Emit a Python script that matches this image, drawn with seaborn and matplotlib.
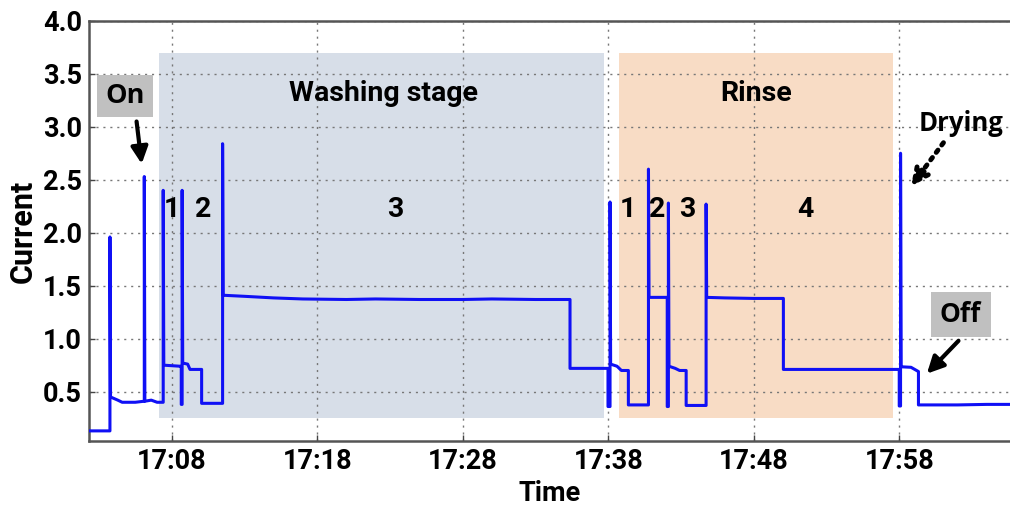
import matplotlib
matplotlib.use("Agg")
import matplotlib.pyplot as plt
import seaborn as sns
import pandas as pd
from matplotlib.patches import Rectangle

# ---- data (time in minutes after 17:00, current) ----
time_min = [2.0, 3.76, 3.76, 3.80, 4.3, 4.6, 5.5, 6.12, 6.12, 6.16, 6.6, 7.0, 7.42, 7.42, 7.46,
            8.6, 8.66, 8.66, 8.72, 8.72, 8.76, 9.1, 9.26, 10.06, 10.06, 11.5, 11.5, 11.54,
            13.0, 15.0, 17.0, 20.0, 22.0, 25.0, 28.0, 30.0, 33.0, 35.37, 35.37,
            37.98, 37.98, 38.12, 38.12, 38.16, 38.6, 38.9, 39.38, 39.38, 40.76, 40.76, 40.80,
            42.05, 42.05, 42.13, 42.13, 42.17, 42.6, 42.9, 43.35, 43.35, 44.72, 44.72, 44.76,
            46.0, 48.0, 50.03, 50.03, 54.0, 57.99, 57.99, 58.08, 58.08, 58.12, 58.8, 59.31,
            59.31, 62.0, 64.0, 66.0]
current = [0.13, 0.13, 1.96, 0.45, 0.42, 0.40, 0.40, 0.41, 2.53, 0.41, 0.42, 0.40, 0.40, 2.40, 0.75,
           0.74, 0.74, 0.38, 0.38, 2.40, 0.77, 0.76, 0.71, 0.71, 0.39, 0.39, 2.84, 1.41,
           1.40, 1.385, 1.375, 1.37, 1.375, 1.37, 1.37, 1.375, 1.37, 1.37, 0.72,
           0.72, 0.36, 0.36, 2.29, 0.76, 0.74, 0.70, 0.70, 0.375, 0.375, 2.60, 1.39,
           1.39, 0.36, 0.36, 2.28, 0.74, 0.72, 0.70, 0.70, 0.37, 0.37, 2.27, 1.39,
           1.385, 1.38, 1.38, 0.71, 0.71, 0.71, 0.365, 0.365, 2.75, 0.735, 0.73, 0.69,
           0.375, 0.375, 0.38, 0.38]

tick_minutes = [8, 18, 28, 38, 48, 58]
tick_labels = ["17:08", "17:18", "17:28", "17:38", "17:48", "17:58"]
ytick_values = [0.5, 1.0, 1.5, 2.0, 2.5, 3.0, 3.5, 4.0]

stage_names = ["Washing stage", "Rinse"]
stage_start = [7.15, 38.76]
stage_end = [37.71, 57.53]
stage_colors = ["#d7dee8", "#f8dcc5"]

wash_steps = ["1", "2", "3"]
wash_step_x = [8.0, 10.16, 23.35]
rinse_steps = ["1", "2", "3", "4"]
rinse_step_x = [39.36, 41.36, 43.42, 51.53]

df = pd.DataFrame({"t": time_min, "I": current})

sns.set_style("ticks")
plt.rcParams["font.family"] = ["Roboto", "DejaVu Sans"]
plt.rcParams["text.color"] = "black"
plt.rcParams["axes.labelcolor"] = "black"

fig = plt.figure(figsize=(10.1, 5.08), dpi=100)
ax = fig.add_axes([0.0881, 0.132, 0.9119, 0.827])

# stage backgrounds
for s0, s1, c in zip(stage_start, stage_end, stage_colors):
    ax.add_patch(Rectangle((s0, 0.25), s1 - s0, 3.45, facecolor=c, edgecolor="none", zorder=0))

sns.lineplot(data=df, x="t", y="I", sort=False, estimator=None, color="#1010f5", lw=2.2, ax=ax, zorder=3)

ax.set_xlim(2.32, 65.6)
ax.set_ylim(0.035, 4.0)
ax.set_xticks(tick_minutes)
ax.set_xticklabels(tick_labels)
ax.set_yticks(ytick_values)
ax.set_yticklabels([f"{v:.1f}" for v in ytick_values])
ax.grid(True, linestyle=(0, (1.5, 3.5)), color="#777777", lw=1.0, zorder=1)
ax.set_axisbelow(True)
ax.tick_params(direction="in", length=4, width=1, colors="#444444", labelcolor="black",
               labelsize=19.5, pad=5)
for lab in ax.get_xticklabels() + ax.get_yticklabels():
    lab.set_fontweight("bold")
for side in ["left", "bottom", "top"]:
    ax.spines[side].set_color("#555555")
    ax.spines[side].set_linewidth(1.8)
ax.spines["right"].set_visible(False)

ax.set_xlabel("Time", fontsize=19.5, fontweight="bold", labelpad=4)
ax.set_ylabel("Current", fontsize=22, fontweight="bold", labelpad=4)

# stage titles
ax.text(22.54, 3.31, stage_names[0], ha="center", va="center", fontsize=20.5, fontweight="bold")
ax.text(48.17, 3.31, stage_names[1], ha="center", va="center", fontsize=20.5, fontweight="bold")

for s, x in zip(wash_steps, wash_step_x):
    ax.text(x, 2.22, s, ha="center", va="center", fontsize=20.5, fontweight="bold")
for s, x in zip(rinse_steps, rinse_step_x):
    ax.text(x, 2.22, s, ha="center", va="center", fontsize=20.5, fontweight="bold")

ann_font = ["Open Sans", "DejaVu Sans"]
# On
ax.text(4.79, 3.29, "On", ha="center", va="center", fontsize=19.5, fontweight="bold", family=ann_font,
        bbox=dict(boxstyle="square,pad=0.3", facecolor="#c0c0c0", edgecolor="none"))
ax.annotate("", xy=(5.94, 2.65), xytext=(5.59, 3.05),
            arrowprops=dict(arrowstyle="-|>", color="black", lw=3, mutation_scale=25, shrinkA=0, shrinkB=0))
# Drying
ax.text(62.25, 3.03, "Drying", ha="center", va="center", fontsize=18.5, fontweight="bold", family=ann_font)
ax.annotate("", xy=(58.81, 2.44), xytext=(61.03, 2.85),
            arrowprops=dict(arrowstyle="-|>", color="black", lw=3.5, linestyle=(0, (0.6, 1.3)),
                            mutation_scale=25, shrinkA=0, shrinkB=0))
# Off
ax.text(62.21, 1.23, "Off", ha="center", va="center", fontsize=19, fontweight="bold", family=ann_font,
        bbox=dict(boxstyle="square,pad=0.35", facecolor="#c0c0c0", edgecolor="none"))
ax.annotate("", xy=(59.89, 0.67), xytext=(62.06, 0.98),
            arrowprops=dict(arrowstyle="-|>", color="black", lw=3, mutation_scale=25, shrinkA=0, shrinkB=0))

fig.savefig("out.png", dpi=100)
